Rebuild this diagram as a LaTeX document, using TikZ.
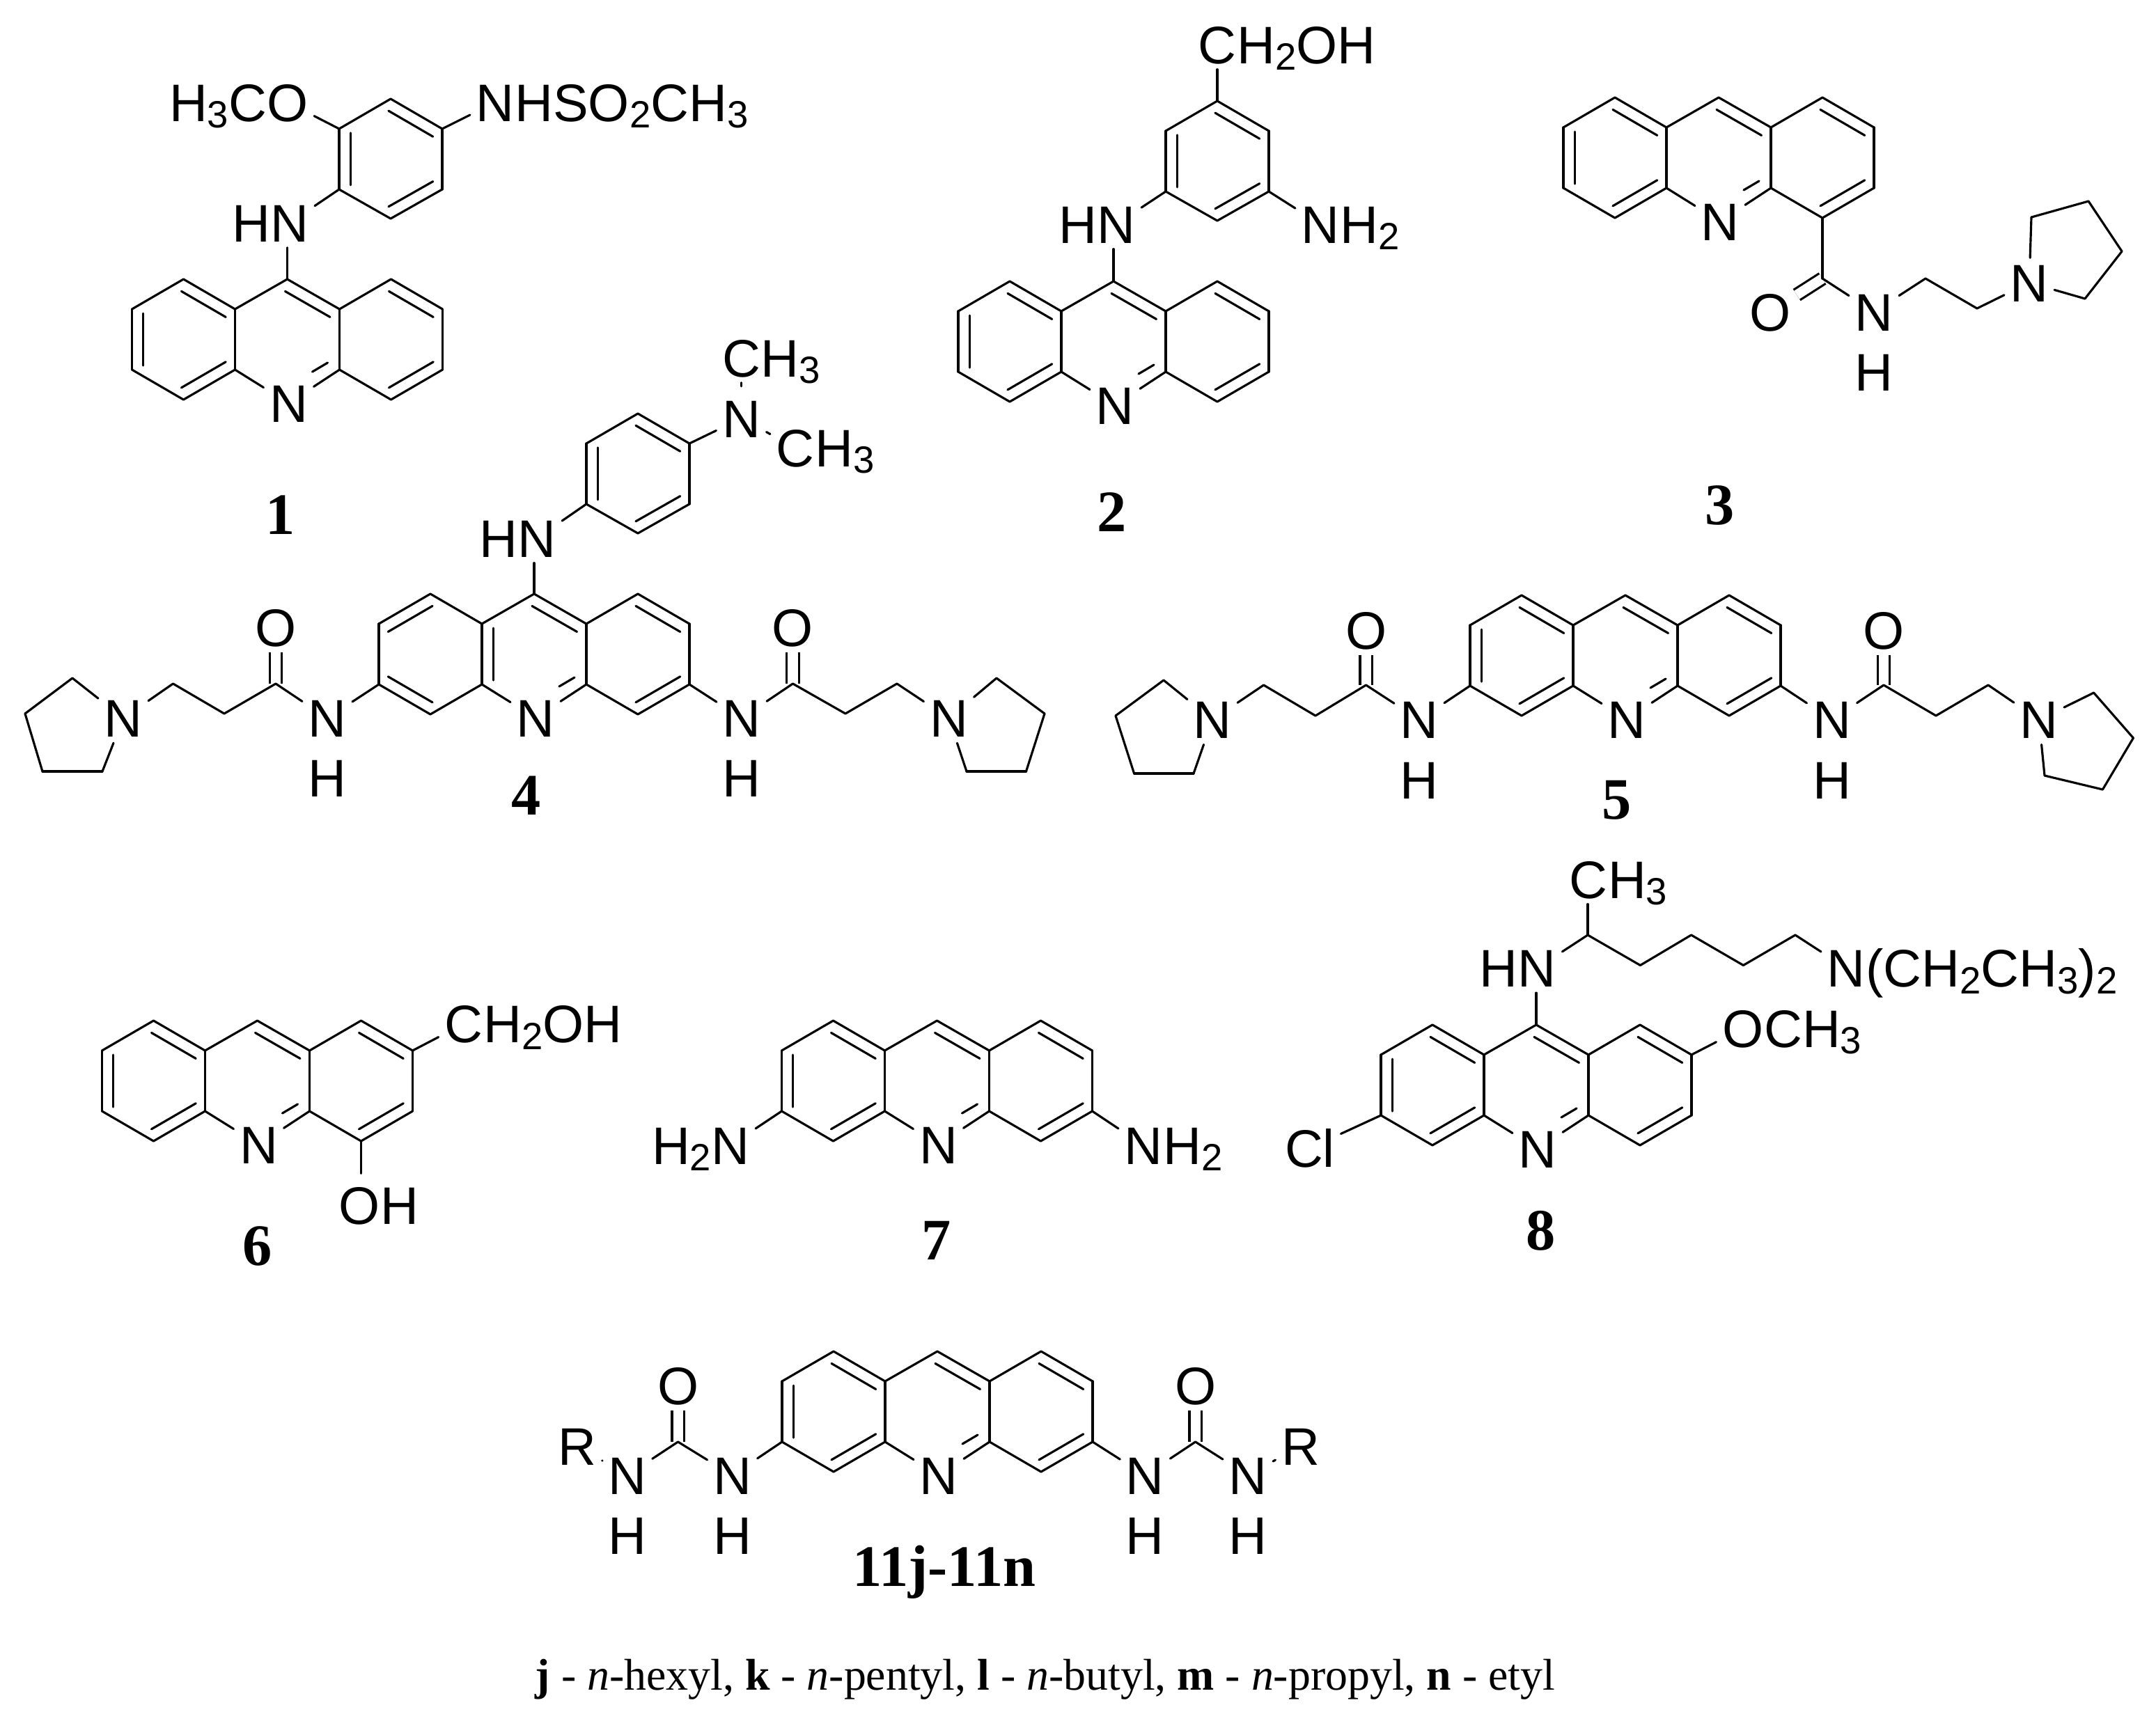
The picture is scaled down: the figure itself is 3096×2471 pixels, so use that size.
\documentclass[tikz,border=0pt]{standalone}
\usepackage{fontspec}
\setmainfont{Liberation Sans}
\newfontfamily\lblfont{Liberation Serif}
\usetikzlibrary{calc}

\newcommand{\atomfont}{\fontsize{21.6}{21.6}\selectfont}
\newcommand{\sbs}[1]{\raisebox{-2.8pt}{\fontsize{15.5}{15.5}\selectfont #1}}
% inner strokes of the ring double bonds
\newcommand{\ringsA}{b/c/p,a/f/p,e/d/p,g/h/q,m/l/r,k/j/r}
\newcommand{\ringsB}{b/a/p,f/e/p,c/d/q,g/h/q,m/l/r,k/j/r}

% prefix, centre x, top y, list of inner strokes
\newcommand{\acridine}[4]{
  \foreach \nm/\dx/\dy in {a/-223/43,b/-149/0,c/-75/43,d/-75/130,e/-149/173,f/-223/130,
    g/0/0,h/75/43,i/75/130,j/149/173,k/223/130,l/223/43,m/149/0,
    p/-149/87,q/0/87,r/149/87,s/58/120,t/36/133}
    \coordinate (#1\nm) at (#2+\dx,#3+\dy);
  \node[atom] (#1n) at (#2+2,#3+178) {N};
  \foreach \from/\to in {a/b,b/c,c/g,g/h,h/m,m/l,l/k,k/j,j/i,i/n,d/n,d/e,e/f,f/a,c/d,h/i}
    \draw (#1\from) -- (#1\to);
  \foreach \from/\to/\ctr in #4
    \draw[innerbond] ($(#1\from)!.22!(#1\ctr)$) -- ($(#1\to)!.22!(#1\ctr)$);
  \draw (#1s) -- (#1t);
}

% prefix, centre x, top y
\newcommand{\phenyl}[3]{
  \foreach \nm/\dx/\dy in {a/0/0,b/74/43,c/74/130,d/0/172,e/-74/130,f/-74/43,o/0/86}
    \coordinate (#1\nm) at (#2+\dx,#3+\dy);
  \foreach \from/\to in {a/b,b/c,c/d,d/e,e/f,f/a}
    \draw (#1\from) -- (#1\to);
  \foreach \from/\to in {a/b,f/e,d/c}
    \draw[innerbond] ($(#1\from)!.22!(#1o)$) -- ($(#1\to)!.22!(#1o)$);
}

\begin{document}
\begin{tikzpicture}
  [x=.01cm,y=-.01cm,line width=.9pt,line join=round,line cap=round,
   every node/.style={font=\atomfont,inner sep=0pt},
   atom/.style={inner sep=2pt,text height=15.4pt,text depth=0pt},
   lft/.style={anchor=base east,xshift=2.8pt},
   rgt/.style={anchor=base west,xshift=-2.6pt},
   cmpd/.style={anchor=base,font=\lblfont\bfseries\fontsize{24}{24}\selectfont},
   legend/.style={anchor=base,font=\lblfont\fontsize{18.15}{18.15}\selectfont},
   innerbond/.style={shorten <=-1pt,shorten >=-1pt},
   dblbond/.style={double,double distance=4pt,line cap=butt}]
  \useasboundingbox (0,0) rectangle (3096,2471);

  % 1
  \acridine{m1}{412.5}{401}{\ringsA}
  \phenyl{m1r}{561}{142}
  \node[atom] (m1hn) at (416,320) {N};
  \node[lft] (m1hnt) at (m1hn.base west) {H};
  \node[atom] (m1o) at (413,147) {O};
  \node[lft] (m1ot) at (m1o.base west) {H\sbs{3}C};
  \node[atom] (m1s) at (711,147) {N};
  \node[rgt] (m1st) at (m1s.base east) {HSO\sbs{2}CH\sbs{3}};
  \draw (m1g) -- (m1g |- m1hn.south);
  \foreach \from/\to in {m1re/m1hn,m1rf/m1o,m1rb/m1s}
    \draw (\from) -- (\to);
  \node[cmpd] (lbl1) at (403,767) {1};

  % 2
  \acridine{m2}{1599}{404}{\ringsA}
  \phenyl{m2r}{1748}{145}
  \node[atom] (m2hn) at (1603,322) {N};
  \node[lft] (m2hnt) at (m2hn.base west) {H};
  \node[atom] (m2c) at (1748,64) {C};
  \node[rgt] (m2ct) at (m2c.base east) {H\sbs{2}OH};
  \node[atom] (m2n) at (1896,322) {N};
  \node[rgt] (m2nt) at (m2n.base east) {H\sbs{2}};
  \draw (m2g) -- (m2g |- m2hn.south);
  \foreach \from/\to in {m2re/m2hn,m2ra/m2c,m2rc/m2n}
    \draw (\from) -- (\to);
  \node[cmpd] (lbl2) at (1597,763) {2};

  % 3
  \acridine{m3}{2468}{140}{\ringsA}
  \foreach \nm/\px/\py in {m3co/2617/400,m3c1/2765/400,m3c2/2839/443,m3p1/2917/312,
    m3p2/2999/289,m3p3/3047/361,m3p4/2994/429}
    \coordinate (\nm) at (\px,\py);
  \node[atom] (m3o) at (2542,448) {O};
  \node[atom] (m3nh) at (2691,448) {N};
  \node[atom] (m3h) at (2691,534) {H};
  \node[atom] (m3np) at (2914,406) {N};
  \draw[dblbond] (m3co) -- (m3o);
  \foreach \from/\to in {m3j/m3co,m3co/m3nh,m3nh/m3c1,m3c1/m3c2,m3c2/m3np,m3np/m3p1,
    m3p1/m3p2,m3p2/m3p3,m3p3/m3p4,m3p4/m3np}
    \draw (\from) -- (\to);
  \node[cmpd] (lbl3) at (2470,753) {3};

  % 4
  \acridine{m4}{767}{853}{\ringsB}
  \phenyl{m4r}{916}{594}
  \foreach \nm/\px/\py in {m4cl/396/982,m4al/322/1025,m4bl/248.5/982,m4p1/104/974,m4p2/36/1025,
    m4p3/61/1108,m4p4/147/1108,m4cr/1138.5/982,m4ar/1214/1025,m4br/1288/982,m4q1/1431/974,
    m4q2/1500/1025,m4q3/1473.5/1108,m4q4/1388/1108}
    \coordinate (\nm) at (\px,\py);
  \node[atom] (m4hn) at (771,773) {N};
  \node[lft] (m4hnt) at (m4hn.base west) {H};
  \node[atom] (m4me) at (1064.5,601) {N};
  \node[atom] (m4m1) at (1064.5,514) {C};
  \node[rgt] (m4m1t) at (m4m1.base east) {H\sbs{3}};
  \node[atom] (m4m2) at (1142,643) {C};
  \node[rgt] (m4m2t) at (m4m2.base east) {H\sbs{3}};
  \node[atom] (m4nl) at (470,1031.5) {N};
  \node[atom] (m4hl) at (470,1117.6) {H};
  \node[atom] (m4ol) at (396,901) {O};
  \node[atom] (m4pl) at (177,1031.5) {N};
  \node[atom] (m4nr) at (1065,1031.5) {N};
  \node[atom] (m4hr) at (1065,1117.6) {H};
  \node[atom] (m4or) at (1138.5,901) {O};
  \node[atom] (m4pr) at (1362.5,1031.5) {N};
  \draw[dblbond] (m4cl) -- (m4ol);
  \draw[dblbond] (m4cr) -- (m4or);
  \draw (m4g) -- (m4g |- m4hn.south);
  \draw[shorten <=3pt] (m4me.north) -- (m4m1.south);
  \foreach \from/\to in {m4re/m4hn,m4rb/m4me,m4me/m4m2,m4f/m4nl,m4nl/m4cl,m4cl/m4al,m4al/m4bl,
    m4bl/m4pl,m4pl/m4p1,m4p1/m4p2,m4p2/m4p3,m4p3/m4p4,m4p4/m4pl,m4k/m4nr,m4nr/m4cr,m4cr/m4ar,
    m4ar/m4br,m4br/m4pr,m4pr/m4q1,m4q1/m4q2,m4q2/m4q3,m4q3/m4q4,m4q4/m4pr}
    \draw (\from) -- (\to);
  \node[cmpd] (lbl4) at (756,1170) {4};

  % 5
  \acridine{m5}{2334}{855}{\ringsA}
  \foreach \nm/\px/\py in {m5cl/1961.6/984,m5al/1889/1028,m5bl/1814.6/984,m5p1/1671/977,
    m5p2/1602/1028,m5p3/1628.6/1111,m5p4/1714/1111,m5cr/2705/984,m5ar/2780/1028,
    m5br/2855/984,m5q1/3006.6/995,m5q2/3063.4/1060,m5q3/3019.4/1134,m5q4/2936/1114}
    \coordinate (\nm) at (\px,\py);
  \node[atom] (m5nl) at (2038,1033.7) {N};
  \node[atom] (m5hl) at (2038,1120) {H};
  \node[atom] (m5ol) at (1961.6,905) {O};
  \node[atom] (m5pl) at (1741,1033.7) {N};
  \node[atom] (m5nr) at (2630.5,1033.7) {N};
  \node[atom] (m5hr) at (2630.5,1120) {H};
  \node[atom] (m5or) at (2705,905) {O};
  \node[atom] (m5pr) at (2928,1033.7) {N};
  \draw[dblbond] (m5cl) -- (m5ol);
  \draw[dblbond] (m5cr) -- (m5or);
  \foreach \from/\to in {m5f/m5nl,m5nl/m5cl,m5cl/m5al,m5al/m5bl,m5bl/m5pl,m5pl/m5p1,m5p1/m5p2,
    m5p2/m5p3,m5p3/m5p4,m5p4/m5pl,m5k/m5nr,m5nr/m5cr,m5cr/m5ar,m5ar/m5br,m5br/m5pr,m5pr/m5q1,
    m5q1/m5q2,m5q2/m5q3,m5q3/m5q4,m5q4/m5pr}
    \draw (\from) -- (\to);
  \node[cmpd] (lbl5) at (2322,1176) {5};

  % 6
  \acridine{m6}{369.5}{1466}{\ringsA}
  \node[atom] (m6c) at (665.7,1470.8) {C};
  \node[rgt] (m6ct) at (m6c.base east) {H\sbs{2}OH};
  \node[atom] (m6o) at (516,1731.7) {O};
  \node[rgt] (m6ot) at (m6o.base east) {H};
  \draw (m6l) -- (m6c);
  \draw[shorten >=3pt] (m6j) -- (m6j |- m6o.north);
  \node[cmpd] (lbl6) at (370,1817) {6};

  % 7
  \acridine{m7}{1345.5}{1466}{\ringsA}
  \node[atom] (m7l) at (1049,1645) {N};
  \node[lft] (m7lt) at (m7l.base west) {H\sbs{2}};
  \node[atom] (m7r) at (1642,1645) {N};
  \node[rgt] (m7rt) at (m7r.base east) {H\sbs{2}};
  \foreach \from/\to in {m7f/m7l,m7k/m7r}
    \draw (\from) -- (\to);
  \node[cmpd] (lbl7) at (1345,1809) {7};

  % 8
  \acridine{m8}{2206}{1472}{\ringsA}
  \foreach \nm/\px/\py in {m8c1/2280/1343,m8c2/2355.4/1386.5,m8c3/2428.6/1343,m8c4/2503.4/1386.5,
    m8c5/2578/1343}
    \coordinate (\nm) at (\px,\py);
  \node[atom] (m8hn) at (2207.4,1390.4) {N};
  \node[lft] (m8hnt) at (m8hn.base west) {H};
  \node[atom] (m8me) at (2280.6,1263) {C};
  \node[rgt] (m8met) at (m8me.base east) {H\sbs{3}};
  \node[atom] (m8am) at (2651,1390.4) {N};
  \node[rgt] (m8amt) at (m8am.base east) {(CH\sbs{2}CH\sbs{3})\sbs{2}};
  \node[atom] (m8o) at (2502.6,1477) {O};
  \node[rgt] (m8ot) at (m8o.base east) {CH\sbs{3}};
  \node[atom] (m8cl) at (1881,1649) {Cl};
  \draw (m8g) -- (m8g |- m8hn.south);
  \draw (m8c1) -- (m8c1 |- m8me.south);
  \foreach \from/\to in {m8c1/m8hn,m8c1/m8c2,m8c2/m8c3,m8c3/m8c4,m8c4/m8c5,m8c5/m8am,m8l/m8o,m8f/m8cl}
    \draw (\from) -- (\to);
  \node[cmpd] (lbl8) at (2212.7,1795) {8};

  % 11j-11n
  \acridine{m9}{1346}{1941}{\ringsA}
  \foreach \nm/\px/\py in {m9cl/973.6/2071,m9cr/1716.6/2071}
    \coordinate (\nm) at (\px,\py);
  \node[atom] (m9n1) at (1051.6,2119) {N};
  \node[atom] (m9h1) at (1051.6,2205) {H};
  \node[atom] (m9ol) at (973.6,1990) {O};
  \node[atom] (m9n2) at (900.7,2119) {N};
  \node[atom] (m9h2) at (900.7,2205) {H};
  \node[atom] (m9rl) at (829,2077) {R};
  \node[atom] (m9n3) at (1644.4,2119) {N};
  \node[atom] (m9h3) at (1644.4,2205) {H};
  \node[atom] (m9or) at (1716.6,1990) {O};
  \node[atom] (m9n4) at (1792,2119) {N};
  \node[atom] (m9h4) at (1792,2205) {H};
  \node[atom] (m9rr) at (1867.5,2077) {R};
  \draw[dblbond] (m9cl) -- (m9ol);
  \draw[dblbond] (m9cr) -- (m9or);
  \foreach \from/\to in {m9f/m9n1,m9n1/m9cl,m9cl/m9n2,m9n2/m9rl,m9k/m9n3,m9n3/m9cr,m9cr/m9n4,m9n4/m9rr}
    \draw (\from) -- (\to);
  \node[cmpd] (lbl9) at (1356,2278.5) {11j-11n};
  \node[legend] (subst) at (1501,2427) {\textbf{j} - \textit{n}-hexyl, \textbf{k} - \textit{n}-pentyl, \textbf{l} - \textit{n}-butyl, \textbf{m} - \textit{n}-propyl, \textbf{n} - etyl};
\end{tikzpicture}
\end{document}
